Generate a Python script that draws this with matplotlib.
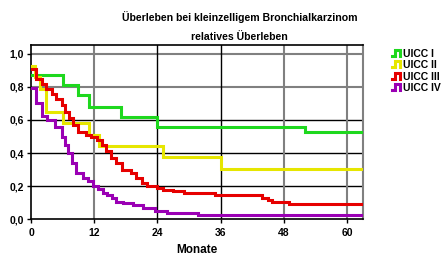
import matplotlib
matplotlib.use("Agg")
import matplotlib.pyplot as plt
from matplotlib.legend_handler import HandlerBase
from matplotlib.lines import Line2D

plt.rcParams['font.family'] = ['Liberation Sans', 'DejaVu Sans']
plt.rcParams['font.weight'] = 'bold'

# survival curves (month, value)
t1 = [0, 6, 9, 11, 17, 24, 52]
s1 = [0.87, 0.81, 0.75, 0.68, 0.62, 0.56, 0.525]

t2 = [0, 0.8, 1.7, 2.9, 6, 11, 13, 25, 36]
s2 = [0.93, 0.86, 0.79, 0.65, 0.58, 0.51, 0.44, 0.375, 0.305]

t3 = [0, 1.0, 2.0, 2.9, 3.9, 4.8, 5.8, 6.4, 7.3, 8.0, 8.9, 10.5, 11.4, 12.5, 13.4,
      14.2, 15.2, 16.2, 17.2, 19.0, 20.0, 21.0, 22.0, 24.0, 25.0, 27.0, 29.0, 35.0,
      43.8, 45.0, 45.7, 49.0]
s3 = [0.91, 0.85, 0.82, 0.79, 0.76, 0.73, 0.69, 0.65, 0.61, 0.57, 0.53, 0.51, 0.495, 0.48, 0.45,
      0.41, 0.37, 0.34, 0.30, 0.28, 0.25, 0.22, 0.20, 0.19, 0.177, 0.168, 0.157, 0.147,
      0.13, 0.115, 0.105, 0.094]

t4 = [0, 0.95, 2.0, 3.0, 4.6, 5.8, 6.4, 7.0, 7.8, 8.6, 9.9, 10.8, 11.8, 12.7, 13.7,
      14.5, 15.3, 16.2, 17.5, 19.4, 21.3, 23.5, 25.8, 31.7]
s4 = [0.795, 0.70, 0.625, 0.60, 0.56, 0.50, 0.45, 0.40, 0.34, 0.28, 0.25, 0.23, 0.20, 0.18, 0.16,
      0.145, 0.125, 0.105, 0.10, 0.085, 0.065, 0.048, 0.035, 0.024]

labels = ['UICC I', 'UICC II', 'UICC III', 'UICC IV']
colors = ['#1ed81e', '#e6e600', '#e60000', '#9a00b4']
t_end = 63

xticks = [0, 12, 24, 36, 48, 60]
yticks = [0.0, 0.2, 0.4, 0.6, 0.8, 1.0]


class StepHandler(HandlerBase):
    def create_artists(self, legend, orig, xd, yd, width, height, fontsize, trans):
        w = width
        xs = [0, 0.35 * w, 0.35 * w, 0.85 * w, 0.85 * w]
        ys = [0.1 * height, 0.1 * height, 0.85 * height, 0.85 * height, 0.1 * height]
        ln = Line2D(xs, ys, color=orig.get_color(), lw=2.2, transform=trans,
                    solid_joinstyle='miter')
        return [ln]


fig = plt.figure(figsize=(4.41, 2.58), dpi=100)
ax = fig.add_axes([0.0703, 0.151, 0.7527, 0.675])

# grid as in the original (mixed grey / black)
for v, c in zip([0.2, 0.4, 0.6, 0.8, 1.0], ['black', 'black', 'black', '#808080', '#808080']):
    ax.axhline(v, color=c, lw=1.0 if c == 'black' else 1.5, zorder=1)
for v, c in zip([12, 24, 36, 48, 60], ['#808080', 'black', 'black', '#808080', '#808080']):
    ax.axvline(v, color=c, lw=1.0 if c == 'black' else 1.5, zorder=1)

handles = []
for t, s, lab, col in zip([t1, t2, t3, t4], [s1, s2, s3, s4], labels, colors):
    line, = ax.step(t + [t_end], s + [s[-1]], where='post', color=col, lw=2.2,
                    label=lab, zorder=3, solid_joinstyle='miter')
    handles.append(line)

ax.set_xlim(0, t_end)
ax.set_ylim(0, 1.055)
ax.set_xticks(xticks)
ax.set_xticklabels([str(x) for x in xticks])
ax.set_yticks(yticks)
ax.set_yticklabels([('%.1f' % y).replace('.', ',') for y in yticks])
ax.tick_params(labelsize=7.5, length=3, width=1, direction='out')
ax.tick_params(axis='x', pad=3.5)
ax.tick_params(axis='y', pad=2)
for sp in ['left', 'bottom', 'top']:
    ax.spines[sp].set_linewidth(1.2)
ax.spines['right'].set_color('#808080')
ax.spines['right'].set_linewidth(1.5)

ax.set_xlabel('Monate', fontsize=8.5, fontweight='bold', labelpad=4)

fig.text(0.544, 0.935, 'Überleben bei kleinzelligem Bronchialkarzinom',
         ha='center', va='center', fontsize=7.6, fontweight='bold')
fig.text(0.543, 0.857, 'relatives Überleben',
         ha='center', va='center', fontsize=7.6, fontweight='bold')

fig.legend(handles=handles, labels=labels, loc='upper left',
           bbox_to_anchor=(0.889, 0.81), frameon=False, fontsize=7.5,
           handler_map={Line2D: StepHandler()}, handlelength=0.9,
           handleheight=0.8, handletextpad=0.15, labelspacing=0.12,
           borderpad=0, borderaxespad=0)

fig.savefig('out.png', dpi=100)
